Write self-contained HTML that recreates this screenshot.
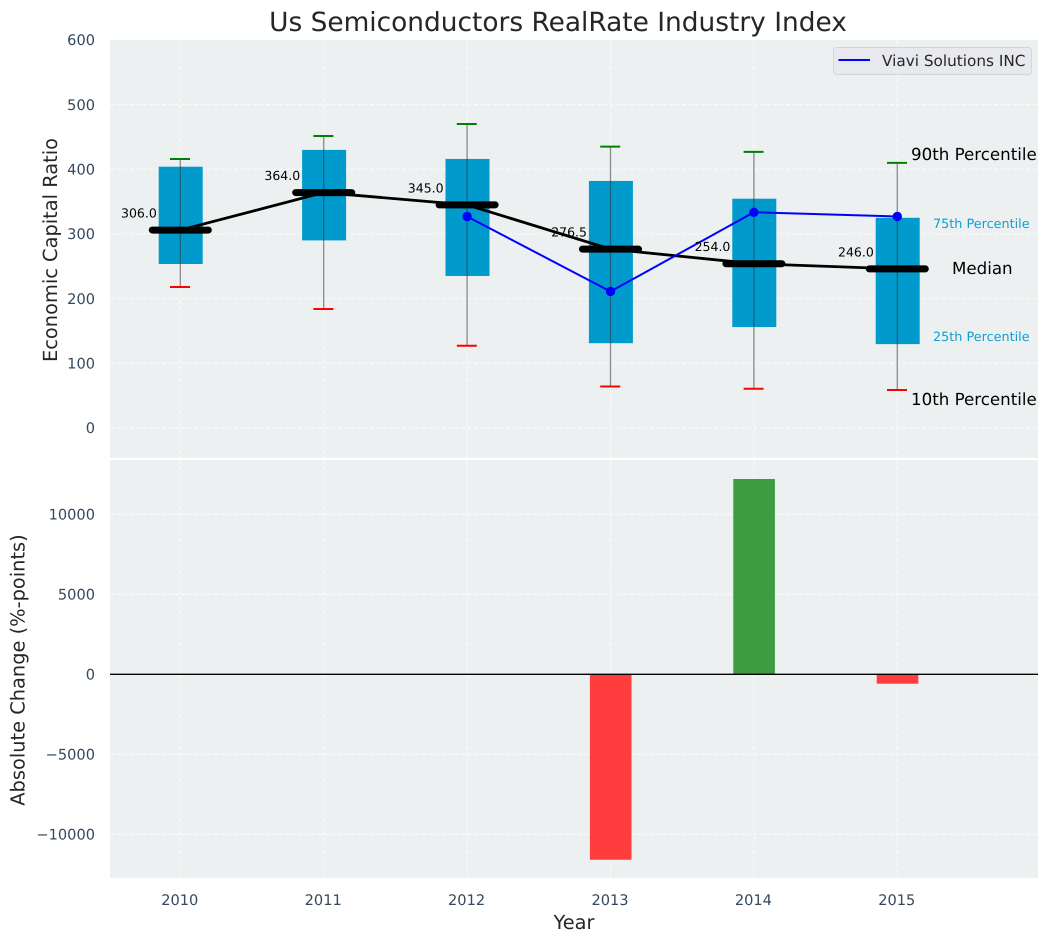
<!DOCTYPE html>
<html lang="en">
<head>
<meta charset="utf-8">
<title>Us Semiconductors RealRate Industry Index</title>
<style>
html,body{margin:0;padding:0;background:#fff;width:1048px;height:942px;overflow:hidden}
svg{display:block;font-family:"DejaVu Sans","Liberation Sans",sans-serif;text-rendering:geometricPrecision}
</style>
</head>
<body>
<svg id="chart" width="1048" height="942" viewBox="0 0 1048 942" xmlns="http://www.w3.org/2000/svg">
  <rect x="110" y="40" width="928" height="418" fill="#ecf0f1"/>
  <rect x="110" y="460" width="928" height="418" fill="#ecf0f1"/>
  <g id="grid"></g>
  <g id="bars"></g>
  <g id="boxes"></g>
  <g id="lines"></g>
  <g id="ticks"></g>
  <g id="annot"></g>
  <text x="558" y="31" font-size="26.4" fill="#262626" text-anchor="middle">Us Semiconductors RealRate Industry Index</text>
  <text transform="translate(57,250) rotate(-90)" font-size="19.4" fill="#262626" text-anchor="middle">Economic Capital Ratio</text>
  <text transform="translate(24.5,670) rotate(-90)" font-size="19.4" fill="#262626" text-anchor="middle">Absolute Change (%-points)</text>
  <text x="574" y="929" font-size="19.4" fill="#262626" text-anchor="middle">Year</text>
  <text x="911" y="160" font-size="16.67" fill="#000">90th Percentile</text>
  <text x="933" y="228" font-size="12.8" fill="#0f9fd0">75th Percentile</text>
  <text x="952" y="274" font-size="16.67" fill="#000">Median</text>
  <text x="933" y="341" font-size="12.8" fill="#0f9fd0">25th Percentile</text>
  <text x="911" y="405" font-size="16.67" fill="#000">10th Percentile</text>
  <g>
    <rect x="833.5" y="47.5" width="198" height="27" rx="3" fill="#e8e9ee" stroke="#d4d5d9" stroke-width="1"/>
    <line x1="838.5" x2="870" y1="60" y2="60" stroke="#0000ff" stroke-width="2"/>
    <text x="882" y="66" font-size="15.28" fill="#262626">Viavi Solutions INC</text>
  </g>
</svg>
<script>
var years = [2010, 2011, 2012, 2013, 2014, 2015];
var p10 = [218, 184, 127, 64, 60.6, 58.6];
var p25 = [253.5, 290, 235, 131, 156, 129.6];
var medians = [306, 364, 345, 276.5, 254, 246];
var p75 = [404, 430, 416, 382, 354.5, 325];
var p90 = [416, 451.5, 470, 435, 427, 410];
var viaviYears = [2012, 2013, 2014, 2015];
var viaviValues = [327, 211, 333.5, 327];
var changeYears = [2013, 2014, 2015];
var changeValues = [-11590, 12206, -588];
var topTicks = [0, 100, 200, 300, 400, 500, 600];
var bottomTicks = [-10000, -5000, 0, 5000, 10000];

var NS = 'http://www.w3.org/2000/svg';
function xScale(year) { return 180.3 + (year - 2010) * 143.4; }
function yTop(v) { return 40 + (600 - v) * 0.6465; }
function yBottom(v) { return 674.3 - v * 0.016; }
function make(tag, parentId, props) {
  var el = document.createElementNS(NS, tag);
  for (var k in props) { el.setAttribute(k, props[k]); }
  document.getElementById(parentId).appendChild(el);
  return el;
}
function fmtTick(v) { return (v < 0 ? '\u2212' + Math.abs(v) : String(v)); }

years.forEach(function (yr) {
  var x = xScale(yr);
  var g1 = make('line', 'grid', {x1: x, x2: x, y1: 40, y2: 458, stroke: '#fff', 'stroke-width': 1, 'stroke-dasharray': '4 2.5', opacity: 0.85});
  
  
  var g2 = make('line', 'grid', {x1: x, x2: x, y1: 460, y2: 878, stroke: '#fff', 'stroke-width': 1, 'stroke-dasharray': '4 2.5', opacity: 0.85});
  
  
  var t = make('text', 'ticks', {x: x - 0.5, y: 905, 'font-size': 14.58, fill: '#34495e', 'text-anchor': 'middle'});
  t.textContent = String(yr);
  
  
});
topTicks.forEach(function (v) {
  var y = yTop(v);
  if (v < 600) {
    var g = make('line', 'grid', {x1: 110, x2: 1038, y1: y, y2: y, stroke: '#fff', 'stroke-width': 1, 'stroke-dasharray': '4 2.5', opacity: 0.85});
    
    
  }
  var t = make('text', 'ticks', {x: 95, y: y + 5.2, 'font-size': 14.58, fill: '#34495e', 'text-anchor': 'end'});
  t.textContent = fmtTick(v);
  
  
});
bottomTicks.forEach(function (v) {
  var y = yBottom(v);
  var g = make('line', 'grid', {x1: 110, x2: 1038, y1: y, y2: y, stroke: '#fff', 'stroke-width': 1, 'stroke-dasharray': '4 2.5', opacity: 0.85});
  
  
  var t = make('text', 'ticks', {x: 95, y: y + 5.2, 'font-size': 14.58, fill: '#34495e', 'text-anchor': 'end'});
  t.textContent = fmtTick(v);
  
  
});

changeValues.forEach(function (v, i) {
  var x = xScale(changeYears[i]);
  var y0 = yBottom(0), y1 = yBottom(v);
  var r = make('rect', 'bars', {x: x - 20.6, width: 41.6, y: Math.min(y0, y1), height: Math.abs(y1 - y0), fill: v < 0 ? '#ff3c3e' : '#3c9c3f'});
  
  
});
var zero = make('line', 'bars', {x1: 110, x2: 1038, y1: yBottom(0), y2: yBottom(0), stroke: '#000', 'stroke-width': 1.3});



years.forEach(function (yr, i) {
  var x = xScale(yr);
  var b = make('rect', 'boxes', {x: x - 21.6, width: 44, y: yTop(p75[i]), height: yTop(p25[i]) - yTop(p75[i]), fill: '#009acd'});
  
  
  var w = make('line', 'boxes', {x1: x, x2: x, y1: yTop(p90[i]), y2: yTop(p10[i]), stroke: '#333', 'stroke-width': 1.3, opacity: 0.55});
  
  
  var cu = make('line', 'boxes', {x1: x - 10.3, x2: x + 9.7, y1: yTop(p90[i]), y2: yTop(p90[i]), stroke: '#008000', 'stroke-width': 2});
  
  
  var cl = make('line', 'boxes', {x1: x - 10.3, x2: x + 9.7, y1: yTop(p10[i]), y2: yTop(p10[i]), stroke: '#ff0000', 'stroke-width': 2});
  
  
});

var medianPts = years.map(function (yr, i) { return xScale(yr) + ',' + yTop(medians[i]); }).join(' ');
var mline = make('polyline', 'lines', {points: medianPts, fill: 'none', stroke: '#000', 'stroke-width': 2.8});


years.forEach(function (yr, i) {
  var x = xScale(yr), y = yTop(medians[i]);
  var m = make('line', 'lines', {x1: x - 28, x2: x + 28, y1: y, y2: y, stroke: '#000', 'stroke-width': 7, 'stroke-linecap': 'round'});
  
  
  var t = make('text', 'annot', {x: x - 23.5, y: y - 12.5, 'font-size': 12.5, fill: '#000', 'text-anchor': 'end'});
  t.textContent = medians[i].toFixed(1);
  
  
});
var viaviPts = viaviYears.map(function (yr, i) { return xScale(yr) + ',' + yTop(viaviValues[i]); }).join(' ');
var vline = make('polyline', 'lines', {points: viaviPts, fill: 'none', stroke: '#0000ff', 'stroke-width': 2});


viaviYears.forEach(function (yr, i) {
  var c = make('circle', 'lines', {cx: xScale(yr), cy: yTop(viaviValues[i]), r: 4.7, fill: '#0000ff'});
  
  
});
</script>
</body>
</html>
